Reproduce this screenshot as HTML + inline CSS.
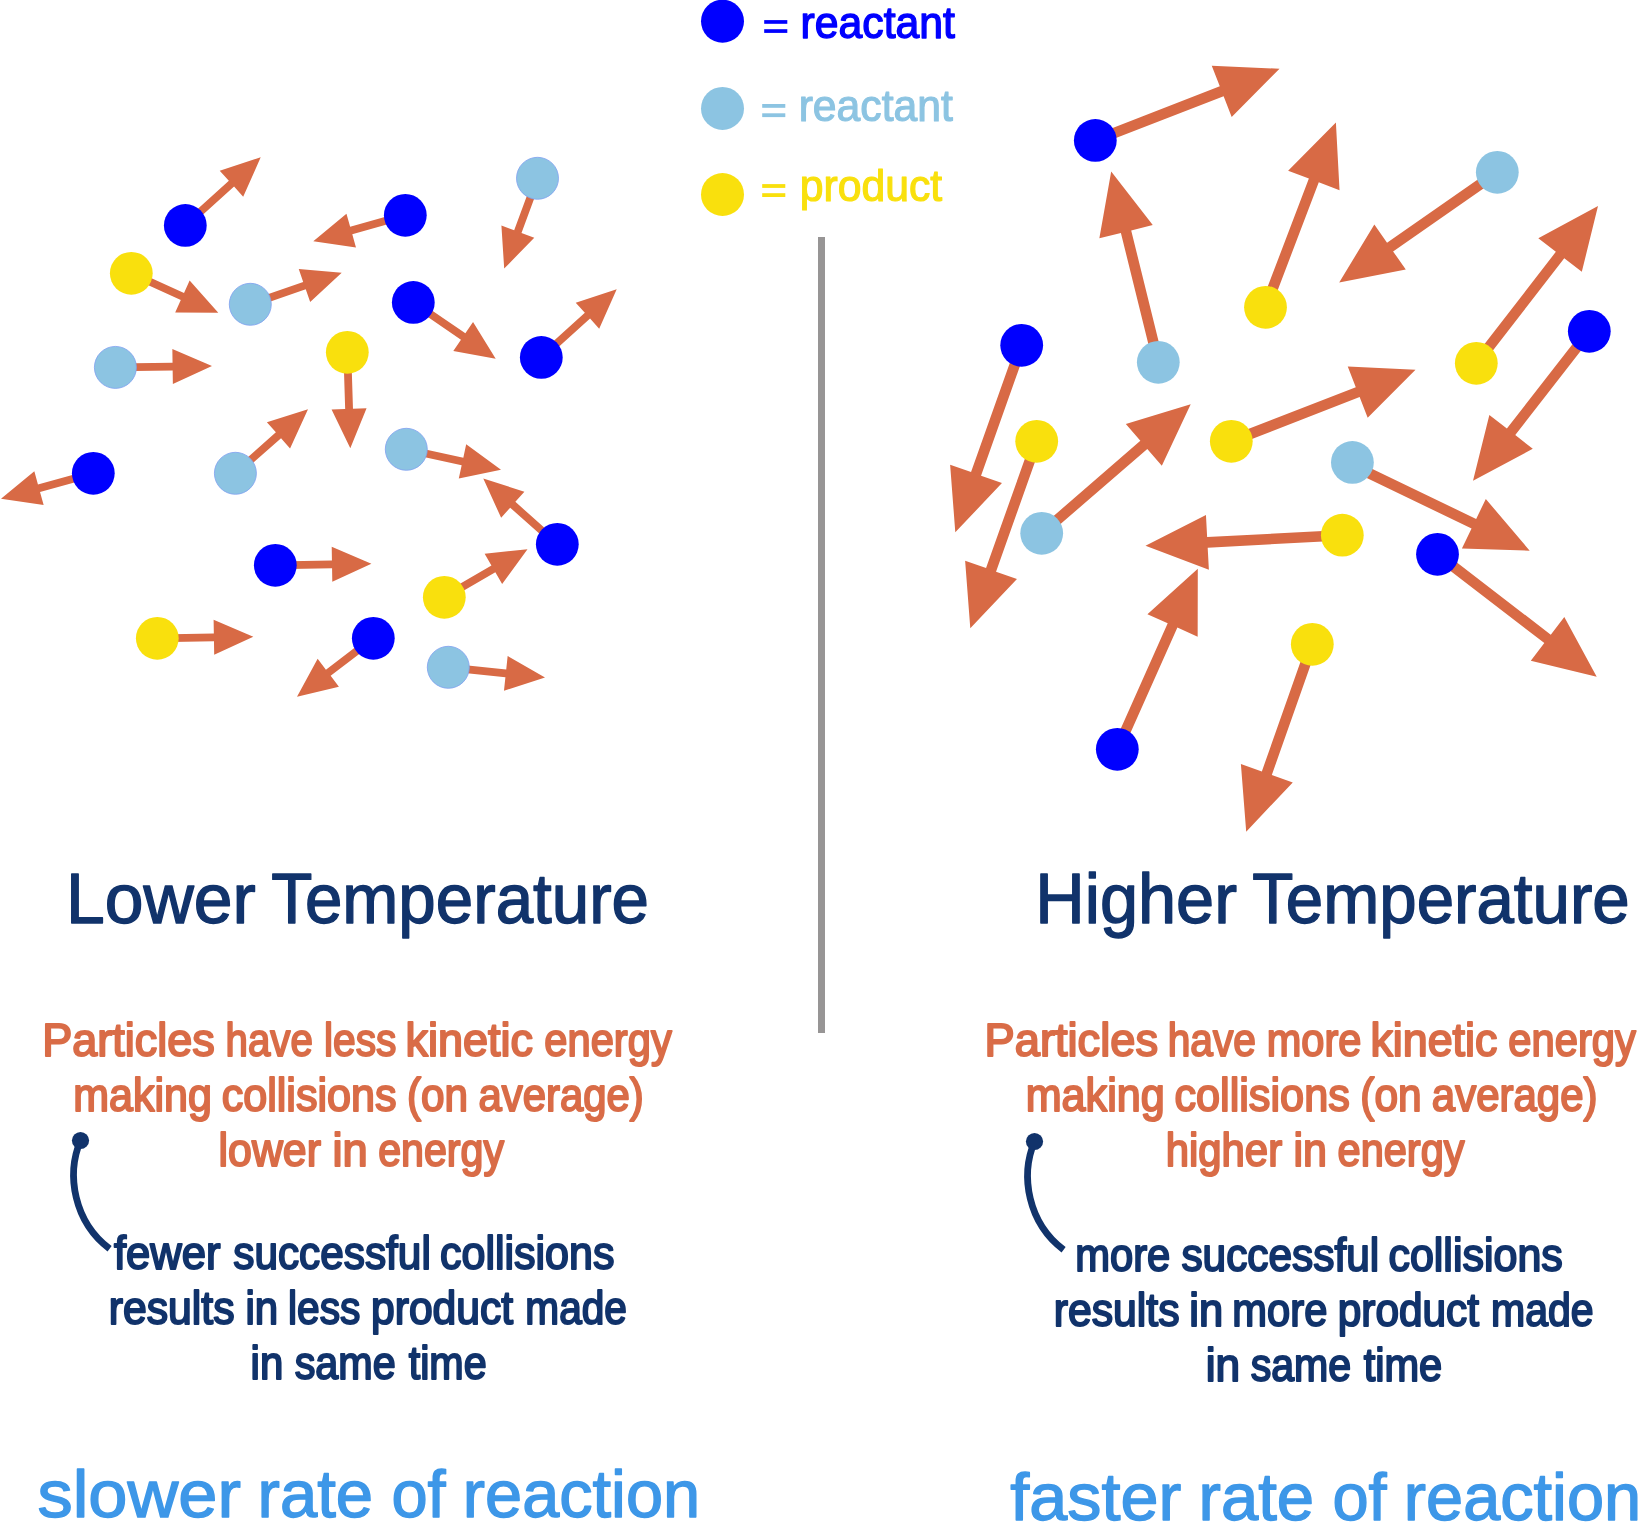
<!DOCTYPE html>
<html lang="en"><head><meta charset="utf-8"><title>Temperature and rate of reaction</title>
<style>html,body{margin:0;padding:0;background:#fff}body{width:1638px;height:1523px;overflow:hidden}svg{display:block;will-change:transform}text{font-family:"Liberation Sans",sans-serif}</style></head><body>
<svg width="1638" height="1523" viewBox="0 0 1638 1523">
<rect width="1638" height="1523" fill="#fff"/>
<rect x="818" y="237" width="7" height="796" fill="#979595"/>
<g fill="#d86a45">
<polygon points="187.91,228.29 234.07,186.6 243.19,196.7 260.7,157.3 219.73,170.72 228.85,180.81 182.69,222.51"/>
<polygon points="404.24,211.55 350.15,226.83 346.46,213.74 313.3,241.3 355.97,247.43 352.28,234.34 406.36,219.05"/>
<polygon points="533.84,176.95 514.17,230.28 501.41,225.58 504.2,268.6 534.25,237.69 521.49,232.98 541.16,179.65"/>
<polygon points="129.69,276.85 180.8,300 175.19,312.39 218.3,312.7 189.63,280.5 184.02,292.89 132.91,269.75"/>
<polygon points="251.57,307.99 305.74,289.26 310.18,302.11 341.7,272.7 298.74,269.03 303.19,281.89 249.03,300.61"/>
<polygon points="411.1,305.62 460.97,339.69 453.3,350.92 495.7,358.7 473.04,322.02 465.37,333.25 415.5,299.18"/>
<polygon points="543.91,360.29 590.07,318.6 599.19,328.7 616.7,289.3 575.73,302.72 584.85,312.81 538.69,354.51"/>
<polygon points="115.46,371.3 172.66,370.47 172.86,384.07 212,366 172.35,349.07 172.55,362.67 115.34,363.5"/>
<polygon points="343.4,352.42 345.17,409.04 331.58,409.47 350.3,448.3 366.56,408.37 352.97,408.8 351.2,352.18"/>
<polygon points="92.27,469.54 37.95,484.49 34.34,471.37 1,498.7 43.63,505.12 40.02,492.01 94.33,477.06"/>
<polygon points="237.98,476.22 281.05,438.2 290.05,448.4 308,409.2 266.88,422.16 275.88,432.35 232.82,470.38"/>
<polygon points="405.47,453.11 461.67,465.28 458.79,478.57 501,469.8 466.19,444.36 463.32,457.65 407.13,445.49"/>
<polygon points="559.89,541.38 515.35,501.84 524.38,491.67 483.3,478.6 501.14,517.85 510.17,507.68 554.71,547.22"/>
<polygon points="275.36,569.2 332.07,568.26 332.3,581.85 371.4,563.7 331.71,546.86 331.94,560.46 275.24,561.4"/>
<polygon points="446.25,600.68 495.34,572.3 502.15,584.07 527.5,549.2 484.63,553.77 491.44,565.54 442.35,593.92"/>
<polygon points="157.36,642.2 213.97,641.26 214.2,654.85 253.3,636.7 213.61,619.86 213.84,633.46 157.24,634.4"/>
<polygon points="370.93,635.2 325.92,669.66 317.65,658.86 297,696.7 338.92,686.65 330.66,675.85 375.67,641.4"/>
<polygon points="447.89,671.18 505.41,677.25 503.98,690.77 545,677.5 507.65,655.96 506.23,669.49 448.71,663.42"/>
<polygon points="1097.22,145.34 1223.63,96.2 1231.68,116.89 1279.5,68.8 1211.75,65.63 1219.79,86.32 1093.38,135.46"/>
<polygon points="1494.27,167.95 1387.03,242.7 1374.34,224.49 1339.2,282.5 1405.79,269.61 1393.09,251.39 1500.33,176.65"/>
<polygon points="1270.45,309.19 1318.78,182.33 1339.53,190.23 1335.9,122.5 1288.13,170.65 1308.88,178.55 1260.55,305.41"/>
<polygon points="1163.45,361.03 1131.2,230.42 1152.76,225.1 1111.2,171.5 1099.36,238.28 1120.91,232.96 1153.15,363.57"/>
<polygon points="1016.71,343.53 971.05,472.1 950.13,464.67 955.3,532.3 1001.96,483.08 981.04,475.65 1026.69,347.07"/>
<polygon points="1480.49,366.54 1564.25,258.28 1581.81,271.86 1598,206 1538.31,238.21 1555.87,251.79 1472.11,360.06"/>
<polygon points="1585.12,328.05 1506.89,428.61 1489.36,414.98 1473,480.8 1532.77,448.75 1515.25,435.12 1593.48,334.55"/>
<polygon points="1031.71,439.53 986.05,568.1 965.13,560.67 970.3,628.3 1016.96,579.08 996.04,571.65 1041.69,443.07"/>
<polygon points="1233.22,446.24 1359.63,397.1 1367.68,417.79 1415.5,369.7 1347.75,366.53 1355.79,387.22 1229.38,436.36"/>
<polygon points="1350.2,469.97 1471.56,528.53 1461.91,548.52 1529.7,550.7 1485.81,498.99 1476.16,518.98 1354.8,460.43"/>
<polygon points="1045.17,537.31 1147.3,448.89 1161.83,465.67 1190.7,404.3 1125.83,424.09 1140.36,440.87 1038.23,529.29"/>
<polygon points="1342.02,529.91 1207.13,537.1 1205.95,514.94 1145.5,545.7 1208.88,569.86 1207.69,547.69 1342.58,540.49"/>
<polygon points="1434.27,558.5 1544.32,643.11 1530.79,660.71 1596.7,676.7 1564.31,617.11 1550.78,634.71 1440.73,550.1"/>
<polygon points="1307.3,642.54 1261.83,771.47 1240.89,764.08 1246.2,831.7 1292.76,782.38 1271.82,774.99 1317.3,646.06"/>
<polygon points="1122.14,751.46 1177.39,627.58 1197.66,636.63 1197.8,568.8 1147.43,614.22 1167.71,623.27 1112.46,747.14"/>
</g>
<g>
<circle cx="185.3" cy="225.4" r="21.4" fill="#0000ff"/>
<circle cx="405.3" cy="215.3" r="21.4" fill="#0000ff"/>
<circle cx="537.5" cy="178.3" r="21" fill="#8cc4e2" stroke="#7f9ff0" stroke-width="0.8"/>
<circle cx="131.3" cy="273.3" r="21.4" fill="#f9e00d"/>
<circle cx="250.3" cy="304.3" r="21" fill="#8cc4e2" stroke="#7f9ff0" stroke-width="0.8"/>
<circle cx="413.3" cy="302.4" r="21.4" fill="#0000ff"/>
<circle cx="541.3" cy="357.4" r="21.4" fill="#0000ff"/>
<circle cx="115.4" cy="367.4" r="21" fill="#8cc4e2" stroke="#7f9ff0" stroke-width="0.8"/>
<circle cx="347.3" cy="352.3" r="21.4" fill="#f9e00d"/>
<circle cx="93.3" cy="473.3" r="21.4" fill="#0000ff"/>
<circle cx="235.4" cy="473.3" r="21" fill="#8cc4e2" stroke="#7f9ff0" stroke-width="0.8"/>
<circle cx="406.3" cy="449.3" r="21" fill="#8cc4e2" stroke="#7f9ff0" stroke-width="0.8"/>
<circle cx="557.3" cy="544.3" r="21.4" fill="#0000ff"/>
<circle cx="275.3" cy="565.3" r="21.4" fill="#0000ff"/>
<circle cx="444.3" cy="597.3" r="21.4" fill="#f9e00d"/>
<circle cx="157.3" cy="638.3" r="21.4" fill="#f9e00d"/>
<circle cx="373.3" cy="638.3" r="21.4" fill="#0000ff"/>
<circle cx="448.3" cy="667.3" r="21" fill="#8cc4e2" stroke="#7f9ff0" stroke-width="0.8"/>
<circle cx="1095.3" cy="140.4" r="21.4" fill="#0000ff"/>
<circle cx="1497.3" cy="172.3" r="21.4" fill="#8cc4e2"/>
<circle cx="1265.5" cy="307.3" r="21.4" fill="#f9e00d"/>
<circle cx="1158.3" cy="362.3" r="21.4" fill="#8cc4e2"/>
<circle cx="1021.7" cy="345.3" r="21.4" fill="#0000ff"/>
<circle cx="1476.3" cy="363.3" r="21.4" fill="#f9e00d"/>
<circle cx="1589.3" cy="331.3" r="21.4" fill="#0000ff"/>
<circle cx="1036.7" cy="441.3" r="21.4" fill="#f9e00d"/>
<circle cx="1231.3" cy="441.3" r="21.4" fill="#f9e00d"/>
<circle cx="1352.4" cy="462.4" r="21.4" fill="#8cc4e2"/>
<circle cx="1041.7" cy="533.3" r="21.4" fill="#8cc4e2"/>
<circle cx="1342.3" cy="535.2" r="21.4" fill="#f9e00d"/>
<circle cx="1437.5" cy="554.3" r="21.4" fill="#0000ff"/>
<circle cx="1312.3" cy="644.3" r="21.4" fill="#f9e00d"/>
<circle cx="1117.3" cy="749.3" r="21.4" fill="#0000ff"/>
</g>
<g>
<circle cx="722.5" cy="21.2" r="21.5" fill="#0000ff"/>
<circle cx="722.5" cy="108.4" r="21.5" fill="#8cc4e2"/>
<circle cx="722.5" cy="194.5" r="21.5" fill="#f9e00d"/>
</g>
<g>
<rect x="764.2" y="20.1" width="23.1" height="3.7" fill="#0000ff"/><rect x="764.2" y="29.2" width="23.1" height="3.7" fill="#0000ff"/>
<rect x="762.2" y="104" width="23.1" height="3.8" fill="#8cc4e2"/><rect x="762.2" y="113.3" width="23.1" height="3.8" fill="#8cc4e2"/>
<rect x="762.2" y="184.1" width="23.1" height="3.8" fill="#f9e00d"/><rect x="762.2" y="193.2" width="23.1" height="3.8" fill="#f9e00d"/>
</g>
<g>
</g>
<g>
</g>
<g transform="translate(0 0)"><path d="M80.5 1140.5 C66 1175 74 1222 109.6 1248.8" fill="none" stroke="#11336b" stroke-width="6.8"/><circle cx="80.5" cy="1140.5" r="8.6" fill="#11336b"/></g>
<g transform="translate(954 1)"><path d="M80.5 1140.5 C66 1175 74 1222 109.6 1248.8" fill="none" stroke="#11336b" stroke-width="6.8"/><circle cx="80.5" cy="1140.5" r="8.6" fill="#11336b"/></g>
<g>
</g>
<g>
</g>
<g>
<text x="800.57" y="37.6" font-size="43.5" fill="#0000ff" textLength="154.36" lengthAdjust="spacingAndGlyphs" stroke="#0000ff" stroke-width="1.4" stroke-linejoin="round">reactant</text>
<text x="798.64" y="121.4" font-size="43.5" fill="#8cc4e2" textLength="154.28" lengthAdjust="spacingAndGlyphs" stroke="#8cc4e2" stroke-width="1.15" stroke-linejoin="round">reactant</text>
<text x="799.84" y="201.3" font-size="43.5" fill="#f9e00d" textLength="142.36" lengthAdjust="spacingAndGlyphs" stroke="#f9e00d" stroke-width="1.15" stroke-linejoin="round">product</text>
<text x="66.03" y="923.05" font-size="70" fill="#11336b" textLength="189.77" lengthAdjust="spacingAndGlyphs" stroke="#11336b" stroke-width="1.4" stroke-linejoin="round">Lower</text>
<text x="271.25" y="923.05" font-size="70" fill="#11336b" textLength="377.76" lengthAdjust="spacingAndGlyphs" stroke="#11336b" stroke-width="1.4" stroke-linejoin="round">Temperature</text>
<text x="1035.24" y="923.05" font-size="70" fill="#11336b" textLength="201.75" lengthAdjust="spacingAndGlyphs" stroke="#11336b" stroke-width="1.4" stroke-linejoin="round">Higher</text>
<text x="1252.23" y="923.05" font-size="70" fill="#11336b" textLength="377.52" lengthAdjust="spacingAndGlyphs" stroke="#11336b" stroke-width="1.4" stroke-linejoin="round">Temperature</text>
<text x="42.31" y="1056.3" font-size="46" fill="#d96c47" textLength="172.54" lengthAdjust="spacingAndGlyphs" stroke="#d96c47" stroke-width="2" stroke-linejoin="round">Particles</text>
<text x="225.6" y="1056.3" font-size="46" fill="#d96c47" textLength="87.27" lengthAdjust="spacingAndGlyphs" stroke="#d96c47" stroke-width="2" stroke-linejoin="round">have</text>
<text x="324.04" y="1056.3" font-size="46" fill="#d96c47" textLength="72.46" lengthAdjust="spacingAndGlyphs" stroke="#d96c47" stroke-width="2" stroke-linejoin="round">less</text>
<text x="405.57" y="1056.3" font-size="46" fill="#d96c47" textLength="127.55" lengthAdjust="spacingAndGlyphs" stroke="#d96c47" stroke-width="2" stroke-linejoin="round">kinetic</text>
<text x="544.35" y="1056.3" font-size="46" fill="#d96c47" textLength="127.38" lengthAdjust="spacingAndGlyphs" stroke="#d96c47" stroke-width="2" stroke-linejoin="round">energy</text>
<text x="73.27" y="1111.2" font-size="46" fill="#d96c47" textLength="138.65" lengthAdjust="spacingAndGlyphs" stroke="#d96c47" stroke-width="2" stroke-linejoin="round">making</text>
<text x="221.64" y="1111.2" font-size="46" fill="#d96c47" textLength="174.98" lengthAdjust="spacingAndGlyphs" stroke="#d96c47" stroke-width="2" stroke-linejoin="round">collisions</text>
<text x="407" y="1111.2" font-size="46" fill="#d96c47" textLength="61.09" lengthAdjust="spacingAndGlyphs" stroke="#d96c47" stroke-width="2" stroke-linejoin="round">(on</text>
<text x="478.51" y="1111.2" font-size="46" fill="#d96c47" textLength="165.2" lengthAdjust="spacingAndGlyphs" stroke="#d96c47" stroke-width="2" stroke-linejoin="round">average)</text>
<text x="218.55" y="1165.8" font-size="46" fill="#d96c47" textLength="102.36" lengthAdjust="spacingAndGlyphs" stroke="#d96c47" stroke-width="2" stroke-linejoin="round">lower</text>
<text x="332.4" y="1165.8" font-size="46" fill="#d96c47" textLength="35.27" lengthAdjust="spacingAndGlyphs" stroke="#d96c47" stroke-width="2" stroke-linejoin="round">in</text>
<text x="378.15" y="1165.8" font-size="46" fill="#d96c47" textLength="125.91" lengthAdjust="spacingAndGlyphs" stroke="#d96c47" stroke-width="2" stroke-linejoin="round">energy</text>
<text x="984.54" y="1056.3" font-size="46" fill="#d96c47" textLength="173.53" lengthAdjust="spacingAndGlyphs" stroke="#d96c47" stroke-width="2" stroke-linejoin="round">Particles</text>
<text x="1167.73" y="1056.3" font-size="46" fill="#d96c47" textLength="88.27" lengthAdjust="spacingAndGlyphs" stroke="#d96c47" stroke-width="2" stroke-linejoin="round">have</text>
<text x="1266.71" y="1056.3" font-size="46" fill="#d96c47" textLength="94.69" lengthAdjust="spacingAndGlyphs" stroke="#d96c47" stroke-width="2" stroke-linejoin="round">more</text>
<text x="1370.38" y="1056.3" font-size="46" fill="#d96c47" textLength="127.09" lengthAdjust="spacingAndGlyphs" stroke="#d96c47" stroke-width="2" stroke-linejoin="round">kinetic</text>
<text x="1508.31" y="1056.3" font-size="46" fill="#d96c47" textLength="127.66" lengthAdjust="spacingAndGlyphs" stroke="#d96c47" stroke-width="2" stroke-linejoin="round">energy</text>
<text x="1025.68" y="1111.2" font-size="46" fill="#d96c47" textLength="139.02" lengthAdjust="spacingAndGlyphs" stroke="#d96c47" stroke-width="2" stroke-linejoin="round">making</text>
<text x="1174.4" y="1111.2" font-size="46" fill="#d96c47" textLength="175.41" lengthAdjust="spacingAndGlyphs" stroke="#d96c47" stroke-width="2" stroke-linejoin="round">collisions</text>
<text x="1360.33" y="1111.2" font-size="46" fill="#d96c47" textLength="61.37" lengthAdjust="spacingAndGlyphs" stroke="#d96c47" stroke-width="2" stroke-linejoin="round">(on</text>
<text x="1431.81" y="1111.2" font-size="46" fill="#d96c47" textLength="165.69" lengthAdjust="spacingAndGlyphs" stroke="#d96c47" stroke-width="2" stroke-linejoin="round">average)</text>
<text x="1165.68" y="1165.8" font-size="46" fill="#d96c47" textLength="116.43" lengthAdjust="spacingAndGlyphs" stroke="#d96c47" stroke-width="2" stroke-linejoin="round">higher</text>
<text x="1293.47" y="1165.8" font-size="46" fill="#d96c47" textLength="33.55" lengthAdjust="spacingAndGlyphs" stroke="#d96c47" stroke-width="2" stroke-linejoin="round">in</text>
<text x="1337.55" y="1165.8" font-size="46" fill="#d96c47" textLength="127.03" lengthAdjust="spacingAndGlyphs" stroke="#d96c47" stroke-width="2" stroke-linejoin="round">energy</text>
<text x="113.91" y="1268.8" font-size="46" fill="#11336b" textLength="106.57" lengthAdjust="spacingAndGlyphs" stroke="#11336b" stroke-width="2" stroke-linejoin="round">fewer</text>
<text x="233.29" y="1268.8" font-size="46" fill="#11336b" textLength="197.51" lengthAdjust="spacingAndGlyphs" stroke="#11336b" stroke-width="2" stroke-linejoin="round">successful</text>
<text x="440.04" y="1268.8" font-size="46" fill="#11336b" textLength="174.37" lengthAdjust="spacingAndGlyphs" stroke="#11336b" stroke-width="2" stroke-linejoin="round">collisions</text>
<text x="108.74" y="1323.5" font-size="46" fill="#11336b" textLength="125.8" lengthAdjust="spacingAndGlyphs" stroke="#11336b" stroke-width="2" stroke-linejoin="round">results</text>
<text x="245.44" y="1323.5" font-size="46" fill="#11336b" textLength="32.69" lengthAdjust="spacingAndGlyphs" stroke="#11336b" stroke-width="2" stroke-linejoin="round">in</text>
<text x="288" y="1323.5" font-size="46" fill="#11336b" textLength="72.36" lengthAdjust="spacingAndGlyphs" stroke="#11336b" stroke-width="2" stroke-linejoin="round">less</text>
<text x="371.03" y="1323.5" font-size="46" fill="#11336b" textLength="142.17" lengthAdjust="spacingAndGlyphs" stroke="#11336b" stroke-width="2" stroke-linejoin="round">product</text>
<text x="525.33" y="1323.5" font-size="46" fill="#11336b" textLength="101.62" lengthAdjust="spacingAndGlyphs" stroke="#11336b" stroke-width="2" stroke-linejoin="round">made</text>
<text x="250.59" y="1378.8" font-size="46" fill="#11336b" textLength="32.71" lengthAdjust="spacingAndGlyphs" stroke="#11336b" stroke-width="2" stroke-linejoin="round">in</text>
<text x="294.66" y="1378.8" font-size="46" fill="#11336b" textLength="101.09" lengthAdjust="spacingAndGlyphs" stroke="#11336b" stroke-width="2" stroke-linejoin="round">same</text>
<text x="408.69" y="1378.8" font-size="46" fill="#11336b" textLength="78.01" lengthAdjust="spacingAndGlyphs" stroke="#11336b" stroke-width="2" stroke-linejoin="round">time</text>
<text x="1075.18" y="1270.8" font-size="46" fill="#11336b" textLength="95.15" lengthAdjust="spacingAndGlyphs" stroke="#11336b" stroke-width="2" stroke-linejoin="round">more</text>
<text x="1181.44" y="1270.8" font-size="46" fill="#11336b" textLength="197.7" lengthAdjust="spacingAndGlyphs" stroke="#11336b" stroke-width="2" stroke-linejoin="round">successful</text>
<text x="1388.42" y="1270.8" font-size="46" fill="#11336b" textLength="174.39" lengthAdjust="spacingAndGlyphs" stroke="#11336b" stroke-width="2" stroke-linejoin="round">collisions</text>
<text x="1053.74" y="1325.7" font-size="46" fill="#11336b" textLength="125.8" lengthAdjust="spacingAndGlyphs" stroke="#11336b" stroke-width="2" stroke-linejoin="round">results</text>
<text x="1189.36" y="1325.7" font-size="46" fill="#11336b" textLength="33.84" lengthAdjust="spacingAndGlyphs" stroke="#11336b" stroke-width="2" stroke-linejoin="round">in</text>
<text x="1232.35" y="1325.7" font-size="46" fill="#11336b" textLength="94.99" lengthAdjust="spacingAndGlyphs" stroke="#11336b" stroke-width="2" stroke-linejoin="round">more</text>
<text x="1337.76" y="1325.7" font-size="46" fill="#11336b" textLength="141.24" lengthAdjust="spacingAndGlyphs" stroke="#11336b" stroke-width="2" stroke-linejoin="round">product</text>
<text x="1491.05" y="1325.7" font-size="46" fill="#11336b" textLength="102.63" lengthAdjust="spacingAndGlyphs" stroke="#11336b" stroke-width="2" stroke-linejoin="round">made</text>
<text x="1205.69" y="1380.8" font-size="46" fill="#11336b" textLength="34.4" lengthAdjust="spacingAndGlyphs" stroke="#11336b" stroke-width="2" stroke-linejoin="round">in</text>
<text x="1250.66" y="1380.8" font-size="46" fill="#11336b" textLength="100.49" lengthAdjust="spacingAndGlyphs" stroke="#11336b" stroke-width="2" stroke-linejoin="round">same</text>
<text x="1363.69" y="1380.8" font-size="46" fill="#11336b" textLength="78.55" lengthAdjust="spacingAndGlyphs" stroke="#11336b" stroke-width="2" stroke-linejoin="round">time</text>
<text x="37.53" y="1517.1" font-size="66" fill="#3d97e8" textLength="203.4" lengthAdjust="spacingAndGlyphs" stroke="#3d97e8" stroke-width="1.4" stroke-linejoin="round">slower</text>
<text x="257.55" y="1517.1" font-size="66" fill="#3d97e8" textLength="115.59" lengthAdjust="spacingAndGlyphs" stroke="#3d97e8" stroke-width="1.4" stroke-linejoin="round">rate</text>
<text x="391.5" y="1517.1" font-size="66" fill="#3d97e8" textLength="54.17" lengthAdjust="spacingAndGlyphs" stroke="#3d97e8" stroke-width="1.4" stroke-linejoin="round">of</text>
<text x="462.84" y="1517.1" font-size="66" fill="#3d97e8" textLength="237.28" lengthAdjust="spacingAndGlyphs" stroke="#3d97e8" stroke-width="1.4" stroke-linejoin="round">reaction</text>
<text x="1010.3" y="1520.3" font-size="66" fill="#3d97e8" textLength="170.93" lengthAdjust="spacingAndGlyphs" stroke="#3d97e8" stroke-width="1.4" stroke-linejoin="round">faster</text>
<text x="1198.55" y="1520.3" font-size="66" fill="#3d97e8" textLength="115.59" lengthAdjust="spacingAndGlyphs" stroke="#3d97e8" stroke-width="1.4" stroke-linejoin="round">rate</text>
<text x="1332.5" y="1520.3" font-size="66" fill="#3d97e8" textLength="54.17" lengthAdjust="spacingAndGlyphs" stroke="#3d97e8" stroke-width="1.4" stroke-linejoin="round">of</text>
<text x="1403.84" y="1520.3" font-size="66" fill="#3d97e8" textLength="237.28" lengthAdjust="spacingAndGlyphs" stroke="#3d97e8" stroke-width="1.4" stroke-linejoin="round">reaction</text>
</g>
</svg></body></html>
